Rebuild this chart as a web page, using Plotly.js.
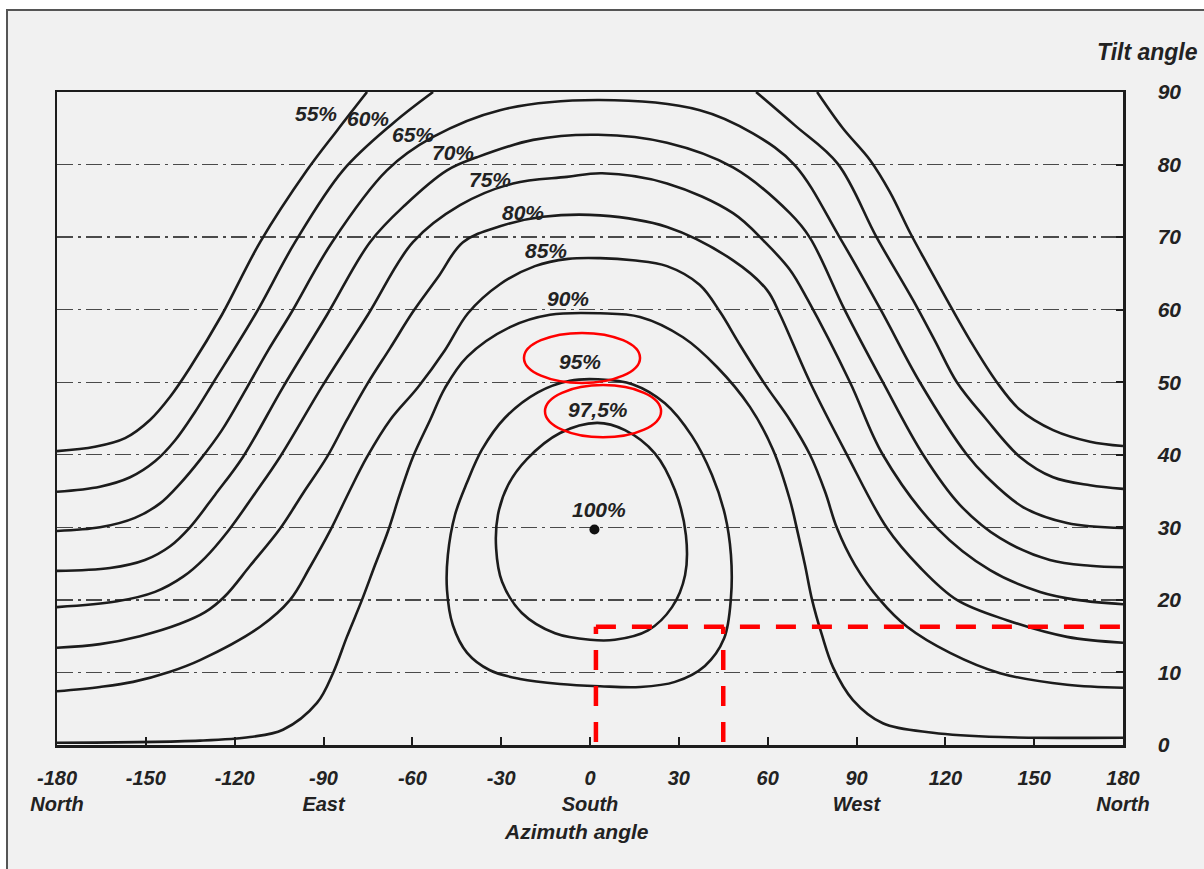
<!DOCTYPE html>
<html>
<head>
<meta charset="utf-8">
<script src="https://cdn.plot.ly/plotly-3.0.1.min.js"></script>
<style>html,body{margin:0;padding:0;background:#fff}#chart{width:1204px;height:869px}</style>
</head>
<body>
<div id="chart"></div>
<script>
// ---------- axes ----------
const azimuthTicks = [-180,-150,-120,-90,-60,-30,0,30,60,90,120,150,180];
const azimuthTickText = ['-180<br>North','-150','-120','-90<br>East','-60','-30','0<br>South','30','60','90<br>West','120','150','180<br>North'];
const tiltTicks = [0,10,20,30,40,50,60,70,80,90];

// ---------- contour lines (azimuth deg, tilt deg) ----------
// 55 % : two branches, both leave through the top (tilt 90)
const az55 = [-180,-167.2,-157.0,-148.6,-141.8,-135.1,-124.3,-111.4,-95.6,-85.4,-75.3, null,
              76.7,85.4,94.6,101.3,108.1,114.1,120.6,128.3,137.4,145.2,156.4,168.9,180];
const tilt55 = [40.5,41.1,42.3,44.8,48.0,52.0,59.3,69.3,79.2,84.7,90, null,
              90,85.0,80.6,76.2,70.6,66.1,61.3,55.8,50.0,46.2,43.4,41.8,41.2];
// 60 %
const az60 = [-180,-165.5,-155.3,-146.9,-140.1,-133.4,-127.3,-113.1,-99.6,-83.4,-66.5,-53.0, null,
              56.1,69.2,83.7,96.9,109.1,116.5,123.9,133.4,145.2,156.4,168.9,180];
const tilt60 = [34.9,35.6,36.9,39.1,42.0,45.9,49.9,59.3,69.3,79.2,85.7,90, null,
              90,85.4,80.1,69.9,61.3,55.7,50.0,45.1,39.7,36.9,35.8,35.3];
// 65 %
const az65 = [-180,-165.5,-153.7,-145.2,-138.5,-131.7,-124.3,-115.8,-108.7,-101.3,-87.1,-68.6,-53.0,-30.4,2.4,
              37.1,55.0,69.2,84.4,98.3,111.4,127.3,134.1,146.2,161.1,180];
const tilt65 = [29.5,30.0,31.3,33.3,36.0,39.3,43.4,49.3,54.4,59.3,69.3,79.2,83.8,87.5,88.9,
              87.5,84.3,79.9,69.9,59.9,50.0,40.0,36.9,32.8,30.6,29.9];
// 70 %
const az70 = [-180,-162.1,-150.3,-141.8,-135.1,-126.6,-117.2,-103.7,-88.8,-74.3,-62.5,-48.3,-38.2,-19.2,2.7,
              26.0,48.3,67.5,74.3,86.1,98.9,112.5,124.9,138.5,155.3,168.9,180];
const tilt70 = [24.0,24.4,25.5,27.4,30.0,34.5,39.7,49.3,59.3,69.3,74.4,79.2,81.0,83.4,84.1,
              83.0,79.6,73.3,69.9,59.9,50.0,40.0,33.1,28.5,25.5,24.7,24.5];
// 75 %
const az75 = [-180,-159.7,-146.9,-137.4,-130.0,-122.2,-113.1,-104.7,-90.2,-75.0,-59.8,-43.9,-26.0,-7.8,4.1,
              26.0,48.3,59.1,67.5,73.6,87.8,98.9,117.2,135.1,152.0,164.5,180];
const tilt75 = [19.0,19.8,21.1,23.2,25.8,29.5,34.7,39.7,49.6,59.3,69.3,74.4,77.4,78.3,78.8,
              77.4,73.3,69.3,65.5,61.3,50.0,40.0,29.9,24.1,21.1,20.0,19.4];
// 80 %
const az80 = [-180,-165.5,-152.0,-138.5,-130.0,-123.3,-114.8,-104.7,-96.9,-88.8,-82.1,-75.3,-67.5,-59.8,-51.3,-42.9,-30.4,-15.9,3.4,
              26.0,48.3,59.8,64.2,74.3,86.8,100.3,111.4,123.9,140.8,161.1,180];
const tilt80 = [13.4,13.9,15.0,16.7,18.3,20.5,24.7,29.8,34.7,39.7,44.8,49.7,54.7,59.7,64.5,69.3,71.5,72.8,73.0,
              71.4,66.8,62.7,59.3,50.0,40.0,29.9,24.5,20.0,17.2,14.9,14.1];
// 85 %
const az85 = [-180,-165.5,-154.3,-141.8,-131.7,-111.4,-101.3,-94.6,-87.8,-81.7,-75.3,-67.5,-58.1,-49.0,-41.2,-30.4,-18.6,-7.4,3.4,
              14.5,26.0,37.1,43.9,50.7,59.1,67.5,74.3,79.4,83.4,89.5,97.9,107.1,121.6,138.5,161.1,180];
const tilt85 = [7.4,8.0,8.7,10.1,11.7,16.3,20.0,24.5,29.5,34.6,39.7,44.8,49.3,54.4,59.5,63.5,66.0,67.0,67.1,
              66.8,66.0,63.4,59.7,55.1,49.7,44.8,40.0,34.9,29.9,24.8,20.0,16.3,12.7,9.9,8.3,7.9];
// 90 %
const az90 = [-180,-131.7,-114.8,-103.7,-92.2,-86.8,-82.1,-77.0,-72.6,-68.2,-64.2,-59.8,-54.0,-49.0,-41.5,-27.0,-13.5,3.4,
              16.9,31.4,42.9,54.0,61.8,67.5,70.2,72.6,75.0,78.3,82.1,88.8,98.9,115.8,138.5,180];
const tilt90 = [0.3,0.6,1.1,2.1,5.8,9.9,14.9,20.0,24.8,29.5,34.6,39.7,44.8,49.2,53.5,57.6,59.3,59.5,
              59.0,56.2,52.1,46.6,40.7,33.8,29.2,24.8,20.0,15.2,10.7,6.2,3.0,1.7,1.1,1.0];
// 95 % (closed)
const az95 = [2.7,14.5,25.3,34.4,41.2,45.6,47.6,47.6,45.3,38.8,28.7,16.9,3.4,-10.1,-23.6,-33.8,-41.5,-46.3,-48.3,-48.0,-45.6,-41.5,-36.5,-28.7,-17.6,-6.8,2.7];
const tilt95 = [50.4,49.7,47.1,42.6,37.2,31.7,26.2,20.3,14.7,10.9,8.7,8.0,8.1,8.4,9.1,10.3,12.7,16.5,21.4,26.2,31.7,36.2,40.7,45.1,48.6,50.2,50.4];
// 97.5 % (closed)
const az975 = [2.4,11.8,21.9,28.7,32.4,32.1,27.7,19.6,8.4,0,-11.8,-23.0,-29.7,-31.7,-31.1,-27.7,-21.3,-10.1,2.4];
const tilt975 = [44.4,43.4,40.2,35.1,28.9,23.4,19.0,15.8,14.5,14.5,15.4,18.2,22.5,27.1,31.7,35.8,39.4,43.0,44.4];
// 100 % optimum
const azOpt = [1.5];
const tiltOpt = [29.7];

const levelNames = ['55%','60%','65%','70%','75%','80%','85%','90%','95%','97,5%'];
const levelAz = [az55,az60,az65,az70,az75,az80,az85,az90,az95,az975];
const levelTilt = [tilt55,tilt60,tilt65,tilt70,tilt75,tilt80,tilt85,tilt90,tilt95,tilt975];

// contour label texts and where they sit (azimuth, tilt)
const labelText = ['55%','60%','65%','70%','75%','80%','85%','90%','95%','97,5%','100%'];
const labelAz = [-92.5,-75.0,-59.8,-46.3,-33.8,-22.6,-14.9,-7.4,-3.4,2.7,3.0];
const labelTilt = [87.1,86.4,84.2,81.6,77.9,73.4,68.2,61.5,52.8,46.2,32.4];

// red hand-drawn marks: selected point (azimuth 45, tilt ~16.3)
const markAz = [2, 45];
const markTilt = 16.3;

// ---------- build ----------
const FONT = 'Liberation Sans, Arial, Helvetica, sans-serif';
const INK = '#1c1c1c';
const traces = levelNames.map((n, i) => ({
  type: 'scatter', mode: 'lines', name: n,
  x: levelAz[i], y: levelTilt[i],
  line: {color: INK, width: 2.6, shape: 'spline', smoothing: 1},
  connectgaps: false, hoverinfo: 'name', showlegend: false
}));
traces.push({type:'scatter', mode:'markers', name:'100%', x: azOpt, y: tiltOpt,
  marker:{color:'#111', size:10}, showlegend:false});

const annotations = labelText.map((t, i) => ({
  x: labelAz[i], y: labelTilt[i], xref:'x', yref:'y', text: t, showarrow:false,
  font:{family:FONT, size:21, color:'#222', weight:'bold', style:'italic'}
}));
annotations.push({xref:'paper', yref:'paper', x:1.0722, y:1.0613, xanchor:'right', yanchor:'middle',
  text:'Tilt angle', showarrow:false, font:{family:FONT, size:23, color:'#222', weight:'bold', style:'italic'}});
annotations.push({xref:'paper', yref:'paper', x:0.4869, y:-0.1332, xanchor:'center', yanchor:'middle',
  text:'Azimuth angle', showarrow:false, font:{family:FONT, size:21, color:'#222', weight:'bold', style:'italic'}});

const RED = '#ff0000';
const shapes = [
  {type:'rect', xref:'paper', yref:'paper', x0:-0.0469, x1:1.0816, y0:-0.1991, y1:1.1256,
   line:{color:'#555', width:2}, fillcolor:'#f1f1f1', layer:'below'},
  {type:'line', xref:'x', yref:'y', x0:markAz[0], x1:180, y0:markTilt, y1:markTilt,
   line:{color:RED, width:4.5, dash:'20px,16px'}},
  {type:'line', xref:'x', yref:'y', x0:markAz[0], x1:markAz[0], y0:0.4, y1:markTilt,
   line:{color:RED, width:4.5, dash:'20px,16px'}},
  {type:'line', xref:'x', yref:'y', x0:markAz[1], x1:markAz[1], y0:0.4, y1:markTilt,
   line:{color:RED, width:4.5, dash:'20px,16px'}},
  {type:'circle', xref:'x', yref:'y', x0:-22.3, x1:16.9, y0:49.9, y1:56.8, line:{color:RED, width:2.5}},
  {type:'circle', xref:'x', yref:'y', x0:-15.2, x1:24.0, y0:42.4, y1:49.6, line:{color:RED, width:2.5}}
];

const layout = {
  width:1204, height:869,
  margin:{l:57, r:81, t:92, b:124},
  paper_bgcolor:'#ffffff', plot_bgcolor:'#f1f1f1',
  font:{family:FONT, color:'#222'},
  xaxis:{range:[-180,180], tickmode:'array', tickvals:azimuthTicks, ticktext:azimuthTickText,
    ticks:'inside', ticklen:8, tickwidth:2, tickcolor:INK,
    showline:true, linewidth:2.5, linecolor:INK, mirror:true,
    showgrid:false, zeroline:false, ticklabelstandoff:13,
    tickfont:{family:FONT, size:20, color:'#222', weight:'bold', style:'italic'}},
  yaxis:{range:[0,90], side:'right', tickmode:'array', tickvals:tiltTicks,
    ticks:'inside', ticklen:7, tickwidth:2, tickcolor:INK,
    showline:true, linewidth:2.5, linecolor:INK, mirror:true,
    showgrid:true, gridcolor:'#4a4a4a', gridwidth:1.3, griddash:'16px,5px,3px,5px',
    zeroline:false, ticklabelstandoff:28,
    tickfont:{family:FONT, size:21, color:'#222', weight:'bold', style:'italic'}},
  annotations: annotations,
  shapes: shapes,
  showlegend:false
};

Plotly.newPlot('chart', traces, layout, {staticPlot:true});
</script>
</body>
</html>
